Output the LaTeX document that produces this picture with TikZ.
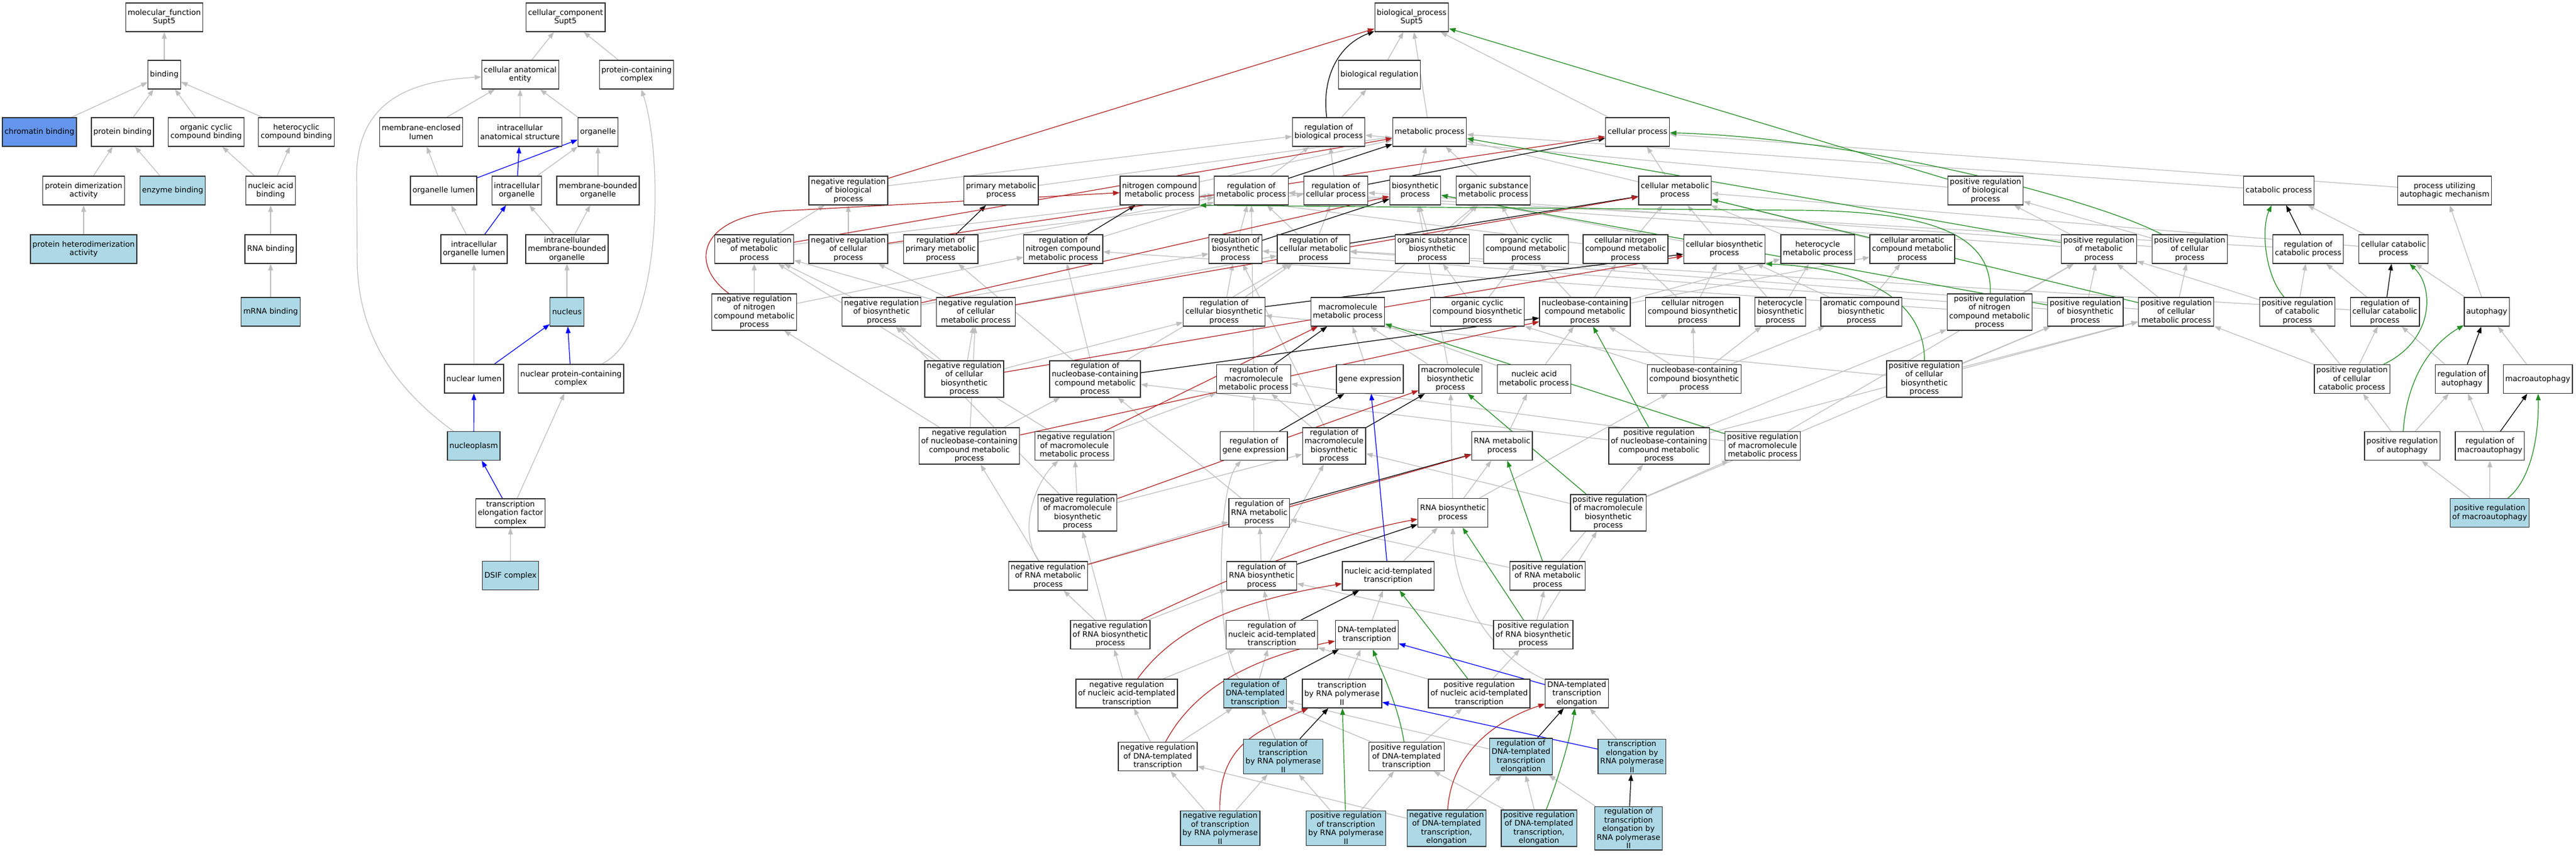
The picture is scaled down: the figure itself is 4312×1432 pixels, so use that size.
\documentclass[tikz,border=0pt]{standalone}
\usepackage{fontspec}
\newfontfamily\gofont{DejaVu Sans}
\usetikzlibrary{arrows.meta,backgrounds}
\definecolor{edgegray}{HTML}{BEBEBE}
\definecolor{negred}{HTML}{B22222}
\definecolor{posgreen}{HTML}{228B22}
\definecolor{hitblue}{HTML}{ADD8E6}
\definecolor{hitdark}{HTML}{6495ED}
\tikzset{
  box/.style={draw=black!80, line width=1.3pt, fill=white, align=center, inner xsep=3.5pt, inner ysep=2.5pt,
    minimum height=48pt, font={\gofont\fontsize{12.8}{14.5}\selectfont}},
  hit/.style={box, fill=hitblue},
  hitdk/.style={box, fill=hitdark},
  isa/.style={draw=edgegray, line width=1.2pt, -{Triangle[length=11pt,width=8pt]}},
  reg/.style={isa, draw=black},
  negreg/.style={isa, draw=negred},
  posreg/.style={isa, draw=posgreen},
  partof/.style={isa, draw=blue},
}
\begin{document}
\begin{tikzpicture}[x=1pt,y=-1pt]
\useasboundingbox (0,0) rectangle (4312,1432);
% molecular function
\node[box] (mf) at (275,29) {molecular\_function\\Supt5};
\node[box] (bind) at (275,125) {binding};
\node[hitdk] (chrom) at (66,221) {chromatin binding};
\node[box] (protb) at (205,221) {protein binding};
\node[box] (ocb) at (345,221) {organic cyclic\\compound binding};
\node[box] (hcb) at (496,221) {heterocyclic\\compound binding};
\node[box] (pdim) at (140,319) {protein dimerization\\activity};
\node[hit] (enzb) at (289,319) {enzyme binding};
\node[box] (nab) at (453,319) {nucleic acid\\binding};
\node[hit] (phet) at (140,417) {protein heterodimerization\\activity};
\node[box] (rnab) at (453,417) {RNA binding};
\node[hit] (mrnab) at (453,522) {mRNA binding};
% cellular component
\node[box] (cc) at (946.6,29) {cellular\_component\\Supt5};
\node[box] (cae) at (870.7,125) {cellular anatomical\\entity};
\node[box] (pcc) at (1065.5,125) {protein-containing\\complex};
\node[box] (mel) at (705,221) {membrane-enclosed\\lumen};
\node[box] (ias) at (870.4,221) {intracellular\\anatomical structure};
\node[box] (org) at (1001,221) {organelle};
\node[box] (orgl) at (742.5,319) {organelle lumen};
\node[box] (io) at (865,319) {intracellular\\organelle};
\node[box] (mbo) at (1001,319) {membrane-bounded\\organelle};
\node[box] (iol) at (793.4,417) {intracellular\\organelle lumen};
\node[box] (imbo) at (949,417) {intracellular\\membrane-bounded\\organelle};
\node[hit] (nuc) at (949,522) {nucleus};
\node[box] (nlum) at (793.4,634) {nuclear lumen};
\node[box] (npcc) at (955.8,634) {nuclear protein-containing\\complex};
\node[hit] (nplasm) at (793,746.5) {nucleoplasm};
\node[box] (tefc) at (854.5,859) {transcription\\elongation factor\\complex};
\node[hit] (dsif) at (854.5,963.5) {DSIF complex};
% biological process
\node[box] (bp) at (2363,29) {biological\_process\\Supt5};
\node[box] (breg) at (2309,125) {biological regulation};
\node[box] (rbp) at (2224,221) {regulation of\\biological process};
\node[box] (met) at (2393,221) {metabolic process};
\node[box] (cp) at (2741,221) {cellular process};
\node[box] (nrbp) at (1420,319) {negative regulation\\of biological\\process};
\node[box] (pmp) at (1675.8,319) {primary metabolic\\process};
\node[box] (ncmp) at (1941,319) {nitrogen compound\\metabolic process};
\node[box] (rmp) at (2094.5,319) {regulation of\\metabolic process};
\node[box] (rcp) at (2236,319) {regulation of\\cellular process};
\node[box] (bsp) at (2369,319) {biosynthetic\\process};
\node[box] (osmp) at (2499.7,319) {organic substance\\metabolic process};
\node[box] (cmp) at (2803.7,319) {cellular metabolic\\process};
\node[box] (prbp) at (3323.5,319) {positive regulation\\of biological\\process};
\node[box] (catp) at (3814.5,319) {catabolic process};
\node[box] (puam) at (4092,319) {process utilizing\\autophagic mechanism};
\node[box] (nrmp) at (1262.4,417) {negative regulation\\of metabolic\\process};
\node[box] (nrcp) at (1420,417) {negative regulation\\of cellular\\process};
\node[box] (rpmp) at (1574.6,417) {regulation of\\primary metabolic\\process};
\node[box] (rncmp) at (1779.8,417) {regulation of\\nitrogen compound\\metabolic process};
\node[box] (rbsp) at (2068,417) {regulation of\\biosynthetic\\process};
\node[box] (rcmp) at (2198.7,417) {regulation of\\cellular metabolic\\process};
\node[box] (osbp) at (2397.5,417) {organic substance\\biosynthetic\\process};
\node[box] (occmp) at (2554.6,417) {organic cyclic\\compound metabolic\\process};
\node[box] (cncmp) at (2721,417) {cellular nitrogen\\compound metabolic\\process};
\node[box] (cbsp) at (2886.4,417) {cellular biosynthetic\\process};
\node[box] (hmp) at (3042.6,417) {heterocycle\\metabolic process};
\node[box] (camp) at (3201,417) {cellular aromatic\\compound metabolic\\process};
\node[box] (prmp) at (3513.4,417) {positive regulation\\of metabolic\\process};
\node[box] (prcp) at (3665.3,417) {positive regulation\\of cellular\\process};
\node[box] (rcatp) at (3863.7,417) {regulation of\\catabolic process};
\node[box] (ccatp) at (4006.5,417) {cellular catabolic\\process};
\node[box] (nrncmp) at (1262.6,522.5) {negative regulation\\of nitrogen\\compound metabolic\\process};
\node[box] (nrbsp) at (1475.7,522) {negative regulation\\of biosynthetic\\process};
\node[box] (nrcmp) at (1633.3,522) {negative regulation\\of cellular\\metabolic process};
\node[box] (rcbsp) at (2049,522) {regulation of\\cellular biosynthetic\\process};
\node[box] (mmp) at (2256,522) {macromolecule\\metabolic process};
\node[box] (occbp) at (2473,522) {organic cyclic\\compound biosynthetic\\process};
\node[box] (nbmp) at (2653,522) {nucleobase-containing\\compound metabolic\\process};
\node[box] (cncbp) at (2833.4,522) {cellular nitrogen\\compound biosynthetic\\process};
\node[box] (hbp) at (2980,522) {heterocycle\\biosynthetic\\process};
\node[box] (acbp) at (3115.7,522) {aromatic compound\\biosynthetic\\process};
\node[box] (prncmp) at (3330.3,522.5) {positive regulation\\of nitrogen\\compound metabolic\\process};
\node[box] (prbsp) at (3490.7,522) {positive regulation\\of biosynthetic\\process};
\node[box] (prcmp) at (3642.6,522) {positive regulation\\of cellular\\metabolic process};
\node[box] (prcatp) at (3845.6,522) {positive regulation\\of catabolic\\process};
\node[box] (rccatp) at (3992,522) {regulation of\\cellular catabolic\\process};
\node[box] (auto) at (4162.6,522) {autophagy};
\node[box] (nrcbsp) at (1614,634.5) {negative regulation\\of cellular\\biosynthetic\\process};
\node[box] (rnbmp) at (1833,634.5) {regulation of\\nucleobase-containing\\compound metabolic\\process};
\node[box] (rmmp) at (2098.5,634.5) {regulation of\\macromolecule\\metabolic process};
\node[box] (gexp) at (2293,634.5) {gene expression};
\node[box] (mbsp) at (2427.8,634.5) {macromolecule\\biosynthetic\\process};
\node[box] (namp) at (2568,634.5) {nucleic acid\\metabolic process};
\node[box] (nbbp) at (2836,634.5) {nucleobase-containing\\compound biosynthetic\\process};
\node[box] (prcbsp) at (3221,634.5) {positive regulation\\of cellular\\biosynthetic\\process};
\node[box] (prccatp) at (3937,634.5) {positive regulation\\of cellular\\catabolic process};
\node[box] (rauto) at (4120.8,634.5) {regulation of\\autophagy};
\node[box] (macro) at (4248,634.5) {macroautophagy};
\node[box] (nrnbmp) at (1622.5,746.5) {negative regulation\\of nucleobase-containing\\compound metabolic\\process};
\node[box] (nrmmp) at (1798.6,746.5) {negative regulation\\of macromolecule\\metabolic process};
\node[box] (rgexp) at (2098.8,746.5) {regulation of\\gene expression};
\node[box] (rmbsp) at (2233.2,746.5) {regulation of\\macromolecule\\biosynthetic\\process};
\node[box] (rnamp) at (2514.3,746.5) {RNA metabolic\\process};
\node[box] (prnbmp) at (2777,746.5) {positive regulation\\of nucleobase-containing\\compound metabolic\\process};
\node[box] (prmmp) at (2950.5,746.5) {positive regulation\\of macromolecule\\metabolic process};
\node[box] (prauto) at (4021,746.7) {positive regulation\\of autophagy};
\node[box] (rmacro) at (4167.8,746.7) {regulation of\\macroautophagy};
\node[box] (nrmbsp) at (1803.7,858.5) {negative regulation\\of macromolecule\\biosynthetic\\process};
\node[box] (rrnamp) at (2107.8,858.5) {regulation of\\RNA metabolic\\process};
\node[box] (rnabp) at (2432,858.5) {RNA biosynthetic\\process};
\node[box] (prmbsp) at (2692,858.5) {positive regulation\\of macromolecule\\biosynthetic\\process};
\node[hit] (prmacro) at (4167.5,858.5) {positive regulation\\of macroautophagy};
\node[box] (nrrnamp) at (1754.5,964) {negative regulation\\of RNA metabolic\\process};
\node[box] (rrnabp) at (2112,964) {regulation of\\RNA biosynthetic\\process};
\node[box] (natt) at (2323.7,964) {nucleic acid-templated\\transcription};
\node[box] (prrnamp) at (2590.6,964) {positive regulation\\of RNA metabolic\\process};
\node[box] (nrrnabp) at (1858.5,1062.6) {negative regulation\\of RNA biosynthetic\\process};
\node[box] (rnatt) at (2129,1062.6) {regulation of\\nucleic acid-templated\\transcription};
\node[box] (dtt) at (2288,1062.6) {DNA-templated\\transcription};
\node[box] (prrnabp) at (2566.5,1062.6) {positive regulation\\of RNA biosynthetic\\process};
\node[box] (nrnatt) at (1886,1161) {negative regulation\\of nucleic acid-templated\\transcription};
\node[hit] (rdtt) at (2101,1161) {regulation of\\DNA-templated\\transcription};
\node[box] (trp2) at (2246.4,1161) {transcription\\by RNA polymerase\\II};
\node[box] (prnatt) at (2476,1161) {positive regulation\\of nucleic acid-templated\\transcription};
\node[box] (dtte) at (2639.4,1161) {DNA-templated\\transcription\\elongation};
\node[box] (nrdtt) at (1938,1266.5) {negative regulation\\of DNA-templated\\transcription};
\node[hit] (rtrp2) at (2148,1266.5) {regulation of\\transcription\\by RNA polymerase\\II};
\node[box] (prdtt) at (2354.3,1266.5) {positive regulation\\of DNA-templated\\transcription};
\node[hit] (rdtte) at (2546,1266.5) {regulation of\\DNA-templated\\transcription\\elongation};
\node[hit] (tep2) at (2731.8,1266.5) {transcription\\elongation by\\RNA polymerase\\II};
\node[hit] (nrtrp2) at (2042.4,1386.5) {negative regulation\\of transcription\\by RNA polymerase\\II};
\node[hit] (prtrp2) at (2253,1386.5) {positive regulation\\of transcription\\by RNA polymerase\\II};
\node[hit] (nrdtte) at (2421.3,1386.5) {negative regulation\\of DNA-templated\\transcription,\\elongation};
\node[hit] (prdtte) at (2576,1386.5) {positive regulation\\of DNA-templated\\transcription,\\elongation};
\node[hit] (rtep2) at (2726,1386.7) {regulation of\\transcription\\elongation by\\RNA polymerase\\II};

\begin{pgfonlayer}{background}
\fill[white] (0,0) rectangle (4312,1432);
% molecular function edges
\draw[isa] (bind) -- (mf);
\draw[isa] (chrom) -- (bind);
\draw[isa] (protb) -- (bind);
\draw[isa] (ocb) -- (bind);
\draw[isa] (hcb) -- (bind);
\draw[isa] (pdim) -- (protb);
\draw[isa] (enzb) -- (protb);
\draw[isa] (nab) -- (ocb);
\draw[isa] (nab) -- (hcb);
\draw[isa] (phet) -- (pdim);
\draw[isa] (rnab) -- (nab);
\draw[isa] (mrnab) -- (rnab);
% cellular component edges
\draw[isa] (cae) -- (cc);
\draw[isa] (pcc) -- (cc);
\draw[isa] (mel) -- (cae);
\draw[isa] (ias) -- (cae);
\draw[isa] (org) -- (cae);
\draw[isa] (orgl) -- (mel);
\draw[isa] (io) -- (org);
\draw[isa] (mbo) -- (org);
\draw[isa] (iol) -- (orgl);
\draw[isa] (imbo) -- (io);
\draw[isa] (imbo) -- (mbo);
\draw[isa] (nuc) -- (imbo);
\draw[isa] (nlum) -- (iol);
\draw[isa] (tefc) -- (npcc);
\draw[isa] (dsif) -- (tefc);
\draw[isa] (npcc) .. controls (1110,560) and (1110,260) .. (pcc);
\draw[isa] (nplasm) .. controls (660,650) and (600,560) .. (598,440) -- (597,290) .. controls (600,160) and (700,135) .. (cae);
\draw[partof] (orgl) -- (org);
\draw[partof] (io) -- (ias);
\draw[partof] (iol) -- (io);
\draw[partof] (nlum) -- (nuc);
\draw[partof] (npcc) -- (nuc);
\draw[partof] (nplasm) -- (nlum);
\draw[partof] (tefc) -- (nplasm);
% biological process, is a
\draw[isa] (breg) -- (bp);
\draw[isa] (met) -- (bp);
\draw[isa] (cp) -- (bp);
\draw[isa] (rbp) -- (breg);
\draw[isa] (nrbp) -- (rbp);
\draw[isa] (pmp) -- (met);
\draw[isa] (ncmp) -- (met);
\draw[isa] (rmp) -- (rbp);
\draw[isa] (rcp) -- (rbp);
\draw[isa] (bsp) -- (met);
\draw[isa] (osmp) -- (met);
\draw[isa] (cmp) -- (cp);
\draw[isa] (cmp) -- (met);
\draw[isa] (prbp) -- (rbp);
\draw[isa] (catp) -- (met);
\draw[isa] (puam) -- (cp);
\draw[isa] (nrmp) -- (nrbp);
\draw[isa] (nrmp) -- (rmp);
\draw[isa] (nrcp) -- (nrbp);
\draw[isa] (nrcp) -- (rcp);
\draw[isa] (rpmp) -- (rmp);
\draw[isa] (rncmp) -- (rmp);
\draw[isa] (rbsp) -- (rmp);
\draw[isa] (rcmp) -- (rmp);
\draw[isa] (rcmp) -- (rcp);
\draw[isa] (osbp) -- (bsp);
\draw[isa] (osbp) -- (osmp);
\draw[isa] (occmp) -- (osmp);
\draw[isa] (cncmp) -- (ncmp);
\draw[isa] (cncmp) -- (cmp);
\draw[isa] (cbsp) -- (cmp);
\draw[isa] (cbsp) -- (bsp);
\draw[isa] (hmp) -- (cmp);
\draw[isa] (camp) -- (cmp);
\draw[isa] (prmp) -- (prbp);
\draw[isa] (prmp) -- (rmp);
\draw[isa] (prcp) -- (prbp);
\draw[isa] (prcp) -- (rcp);
\draw[isa] (rcatp) -- (rmp);
\draw[isa] (ccatp) -- (catp);
\draw[isa] (ccatp) -- (cmp);
\draw[isa] (nrncmp) -- (nrmp);
\draw[isa] (nrncmp) -- (rncmp);
\draw[isa] (nrbsp) -- (nrmp);
\draw[isa] (nrbsp) -- (rbsp);
\draw[isa] (nrcmp) -- (nrmp);
\draw[isa] (nrcmp) -- (nrcp);
\draw[isa] (nrcmp) -- (rcmp);
\draw[isa] (rcbsp) -- (rbsp);
\draw[isa] (rcbsp) -- (rcmp);
\draw[isa] (mmp) -- (osmp);
\draw[isa] (occbp) -- (osbp);
\draw[isa] (occbp) -- (occmp);
\draw[isa] (nbmp) -- (occmp);
\draw[isa] (nbmp) -- (cncmp);
\draw[isa] (nbmp) -- (hmp);
\draw[isa] (nbmp) -- (camp);
\draw[isa] (cncbp) -- (cncmp);
\draw[isa] (cncbp) -- (cbsp);
\draw[isa] (hbp) -- (cbsp);
\draw[isa] (hbp) -- (hmp);
\draw[isa] (acbp) -- (cbsp);
\draw[isa] (acbp) -- (camp);
\draw[isa] (prncmp) -- (prmp);
\draw[isa] (prncmp) -- (rncmp);
\draw[isa] (prbsp) -- (prmp);
\draw[isa] (prbsp) -- (rbsp);
\draw[isa] (prcmp) -- (prmp);
\draw[isa] (prcmp) -- (prcp);
\draw[isa] (prcmp) -- (rcmp);
\draw[isa] (prcatp) -- (rcatp);
\draw[isa] (prcatp) -- (prmp);
\draw[isa] (rccatp) -- (rcatp);
\draw[isa] (rccatp) -- (rcmp);
\draw[isa] (auto) -- (puam);
\draw[isa] (auto) -- (ccatp);
\draw[isa] (nrcbsp) -- (nrbsp);
\draw[isa] (nrcbsp) -- (nrcmp);
\draw[isa] (nrcbsp) -- (rcbsp);
\draw[isa] (rnbmp) -- (rncmp);
\draw[isa] (rnbmp) -- (rcmp);
\draw[isa] (rnbmp) -- (rpmp);
\draw[isa] (rmmp) -- (rmp);
\draw[isa] (gexp) -- (mmp);
\draw[isa] (mbsp) -- (mmp);
\draw[isa] (mbsp) -- (bsp);
\draw[isa] (namp) -- (nbmp);
\draw[isa] (namp) -- (mmp);
\draw[isa] (nbbp) -- (nbmp);
\draw[isa] (nbbp) -- (cncbp);
\draw[isa] (nbbp) -- (hbp);
\draw[isa] (nbbp) -- (acbp);
\draw[isa] (nbbp) -- (occbp);
\draw[isa] (prcbsp) -- (prbsp);
\draw[isa] (prcbsp) -- (prcmp);
\draw[isa] (prcbsp) -- (rcbsp);
\draw[isa] (prccatp) -- (prcatp);
\draw[isa] (prccatp) -- (rccatp);
\draw[isa] (prccatp) -- (prcmp);
\draw[isa] (rauto) -- (rccatp);
\draw[isa] (macro) -- (auto);
\draw[isa] (nrnbmp) -- (nrncmp);
\draw[isa] (nrnbmp) -- (nrcmp);
\draw[isa] (nrnbmp) -- (rnbmp);
\draw[isa] (nrmmp) -- (nrmp);
\draw[isa] (nrmmp) -- (rmmp);
\draw[isa] (rgexp) -- (rmmp);
\draw[isa] (rmbsp) -- (rmmp);
\draw[isa] (rmbsp) -- (rbsp);
\draw[isa] (rnamp) -- (namp);
\draw[isa] (prnbmp) -- (prncmp);
\draw[isa] (prnbmp) -- (prcmp);
\draw[isa] (prnbmp) -- (rnbmp);
\draw[isa] (prmmp) -- (prmp);
\draw[isa] (prmmp) -- (rmmp);
\draw[isa] (prauto) -- (rauto);
\draw[isa] (prauto) -- (prccatp);
\draw[isa] (rmacro) -- (rauto);
\draw[isa] (nrmbsp) -- (nrmmp);
\draw[isa] (nrmbsp) -- (nrbsp);
\draw[isa] (nrmbsp) -- (rmbsp);
\draw[isa] (rrnamp) -- (rnbmp);
\draw[isa] (rnabp) -- (rnamp);
\draw[isa] (rnabp) -- (mbsp);
\draw[isa] (rnabp) -- (nbbp);
\draw[isa] (prmbsp) -- (prmmp);
\draw[isa] (prmbsp) -- (prbsp);
\draw[isa] (prmbsp) -- (rmbsp);
\draw[isa] (prmacro) -- (prauto);
\draw[isa] (prmacro) -- (rmacro);
\draw[isa] (nrrnamp) -- (nrnbmp);
\draw[isa] (nrrnamp) .. controls (1700,880) and (1740,800) .. (nrmmp);
\draw[isa] (nrrnamp) -- (rrnamp);
\draw[isa] (rrnabp) -- (rrnamp);
\draw[isa] (rrnabp) -- (rmbsp);
\draw[isa] (natt) -- (rnabp);
\draw[isa] (prrnamp) -- (prnbmp);
\draw[isa] (prrnamp) -- (rrnamp);
\draw[isa] (nrrnabp) -- (nrrnamp);
\draw[isa] (nrrnabp) -- (nrmbsp);
\draw[isa] (nrrnabp) -- (rrnabp);
\draw[isa] (rnatt) -- (rrnabp);
\draw[isa] (dtt) -- (natt);
\draw[isa] (prrnabp) -- (prrnamp);
\draw[isa] (prrnabp) -- (prmbsp);
\draw[isa] (prrnabp) -- (rrnabp);
\draw[isa] (nrnatt) -- (nrrnabp);
\draw[isa] (nrnatt) -- (rnatt);
\draw[isa] (rdtt) -- (rnatt);
\draw[isa] (rdtt) .. controls (2035,1100) and (2035,820) .. (rgexp);
\draw[isa] (trp2) -- (dtt);
\draw[isa] (prnatt) -- (prrnabp);
\draw[isa] (prnatt) -- (rnatt);
\draw[isa] (dtte) .. controls (2500,1100) and (2432,1000) .. (rnabp);
\draw[isa] (nrdtt) -- (nrnatt);
\draw[isa] (nrdtt) -- (rdtt);
\draw[isa] (rtrp2) -- (rdtt);
\draw[isa] (prdtt) -- (prnatt);
\draw[isa] (prdtt) -- (rdtt);
\draw[isa] (rdtte) -- (rdtt);
\draw[isa] (tep2) -- (dtte);
\draw[isa] (nrtrp2) -- (nrdtt);
\draw[isa] (nrtrp2) -- (rtrp2);
\draw[isa] (prtrp2) -- (prdtt);
\draw[isa] (prtrp2) -- (rtrp2);
\draw[isa] (nrdtte) -- (rdtte);
\draw[isa] (nrdtte) -- (nrdtt);
\draw[isa] (prdtte) -- (rdtte);
\draw[isa] (prdtte) -- (prdtt);
\draw[isa] (rtep2) -- (rdtte);
% regulates
\draw[reg] (rbp) .. controls (2212,130) and (2240,75) .. (bp);
\draw[reg] (rpmp) -- (pmp);
\draw[reg] (rncmp) -- (ncmp);
\draw[reg] (rmp) -- (met);
\draw[reg] (rcp) -- (cp);
\draw[reg] (rbsp) -- (bsp);
\draw[reg] (rcmp) -- (cmp);
\draw[reg] (rcbsp) -- (cbsp);
\draw[reg] (rmmp) -- (mmp);
\draw[reg] (rnbmp) -- (nbmp);
\draw[reg] (rgexp) -- (gexp);
\draw[reg] (rmbsp) -- (mbsp);
\draw[reg] (rrnamp) -- (rnamp);
\draw[reg] (rrnabp) -- (rnabp);
\draw[reg] (rnatt) -- (natt);
\draw[reg] (rdtt) -- (dtt);
\draw[reg] (rtrp2) -- (trp2);
\draw[reg] (rdtte) -- (dtte);
\draw[reg] (rtep2) -- (tep2);
\draw[reg] (rcatp) -- (catp);
\draw[reg] (rccatp) -- (ccatp);
\draw[reg] (rauto) -- (auto);
\draw[reg] (rmacro) -- (macro);
% negatively regulates
\draw[negreg] (nrbp) -- (bp);
\draw[negreg] (nrmp) -- (met);
\draw[negreg] (nrcp) -- (cp);
\draw[negreg] (nrncmp) .. controls (1150,440) and (1170,355) .. (1330,352) -- (ncmp);
\draw[negreg] (nrbsp) -- (bsp);
\draw[negreg] (nrcmp) -- (cmp);
\draw[negreg] (nrcbsp) -- (cbsp);
\draw[negreg] (nrmmp) -- (mmp);
\draw[negreg] (nrnbmp) -- (nbmp);
\draw[negreg] (nrmbsp) -- (mbsp);
\draw[negreg] (nrrnamp) -- (rnamp);
\draw[negreg] (nrrnabp) .. controls (1990,1000) and (2200,900) .. (rnabp);
\draw[negreg] (nrnatt) .. controls (1960,1060) and (2050,1010) .. (natt);
\draw[negreg] (nrdtt) .. controls (2000,1150) and (2100,1100) .. (dtt);
\draw[negreg] (nrtrp2) .. controls (2040,1250) and (2100,1225) .. (trp2);
\draw[negreg] (nrdtte) .. controls (2430,1250) and (2520,1200) .. (dtte);
% positively regulates
\draw[posreg] (prbp) -- (bp);
\draw[posreg] (prmp) -- (met);
\draw[posreg] (prcp) .. controls (3500,330) and (3100,230) .. (cp);
\draw[posreg] (prncmp) .. controls (3335,400) and (3250,352) .. (3000,352) -- (ncmp.south east);
\draw[posreg] (prbsp) -- (bsp);
\draw[posreg] (prcmp) -- (cmp);
\draw[posreg] (prcbsp) .. controls (3222,520) and (3150,450) .. (cbsp.south east);
\draw[posreg] (prmmp) -- (mmp);
\draw[posreg] (prnbmp) -- (nbmp);
\draw[posreg] (prmbsp) -- (mbsp);
\draw[posreg] (prrnamp) -- (rnamp);
\draw[posreg] (prrnabp) -- (rnabp);
\draw[posreg] (prnatt) -- (natt);
\draw[posreg] (prdtt) .. controls (2340,1180) and (2315,1130) .. (dtt);
\draw[posreg] (prtrp2) -- (trp2);
\draw[posreg] (prdtte) .. controls (2610,1300) and (2630,1230) .. (dtte);
\draw[posreg] (prcatp) .. controls (3790,460) and (3785,380) .. (catp);
\draw[posreg] (prccatp) .. controls (4075,570) and (4075,480) .. (ccatp);
\draw[posreg] (prauto) .. controls (4030,620) and (4080,570) .. (auto);
\draw[posreg] (prmacro) .. controls (4240,800) and (4250,720) .. (macro);
% part of
\draw[partof] (natt) -- (gexp);
\draw[partof] (dtte) -- (dtt);
\draw[partof] (tep2) -- (trp2);
\end{pgfonlayer}
\end{tikzpicture}
\end{document}
